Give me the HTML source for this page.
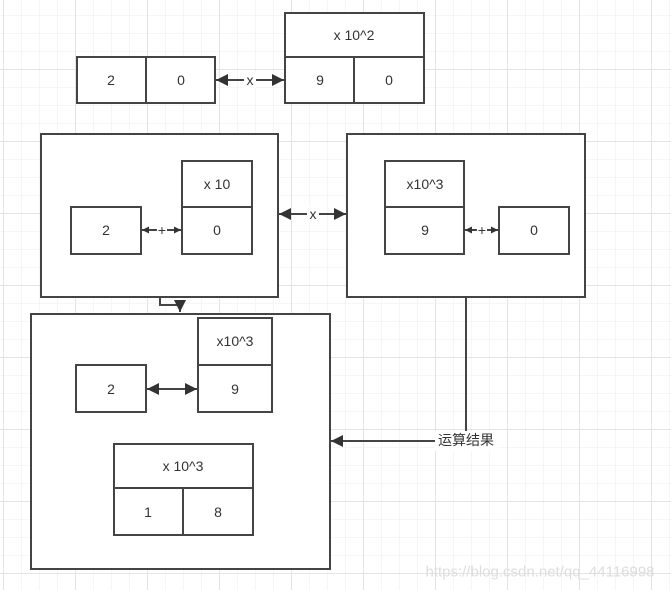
<!DOCTYPE html>
<html><head><meta charset="utf-8"><style>
html,body{margin:0;padding:0;background:#fff;}
svg{display:block;}
text{font-family:"Liberation Sans","Noto Sans CJK SC",sans-serif;font-size:14px;fill:#333;text-anchor:middle;dominant-baseline:central;}
.b{fill:#fff;stroke:#444;stroke-width:2;}
.l{stroke:#444;stroke-width:2;fill:none;}
</style></head><body>
<svg width="671" height="590" viewBox="0 0 671 590" xmlns="http://www.w3.org/2000/svg">
<defs>
<pattern id="mi" width="18" height="18" patternUnits="userSpaceOnUse" x="3" y="15">
<path d="M0 0H18M0 0V18" stroke="#ececec" stroke-width="1" fill="none"/>
</pattern>
<pattern id="ma" width="72" height="72" patternUnits="userSpaceOnUse" x="3" y="69">
<path d="M0 0H72M0 0V72" stroke="#dcdcdc" stroke-width="1.5" fill="none"/>
</pattern>
<marker id="ar" viewBox="0 0 10 10" refX="10" refY="5" markerWidth="7" markerHeight="7" orient="auto-start-reverse" markerUnits="userSpaceOnUse">
<path d="M0 0L10 5L0 10Z" fill="#333"/>
</marker>
<marker id="ab" viewBox="0 0 10 10" refX="10" refY="5" markerWidth="14" markerHeight="12" orient="auto-start-reverse" markerUnits="userSpaceOnUse">
<path d="M0 0L10 5L0 10Z" fill="#333"/>
</marker>
</defs>
<rect width="671" height="590" fill="#fff"/>
<rect width="671" height="590" fill="url(#mi)"/>
<rect width="671" height="590" fill="url(#ma)"/>

<!-- top -->
<rect class="b" x="77" y="57" width="138" height="46"/>
<line class="l" x1="146" y1="57" x2="146" y2="103"/>
<text x="111" y="80">2</text><text x="181" y="80">0</text>
<rect class="b" x="285" y="13" width="139" height="90"/>
<line class="l" x1="285" y1="57" x2="424" y2="57"/>
<line class="l" x1="354" y1="57" x2="354" y2="103"/>
<text x="354" y="35">x 10^2</text><text x="320" y="80">9</text><text x="389" y="80">0</text>
<line class="l" x1="216" y1="80" x2="284" y2="80" marker-start="url(#ab)" marker-end="url(#ab)"/>
<rect x="244" y="72" width="12" height="16" fill="#fff"/><text x="250" y="80">x</text>

<!-- box A -->
<rect class="b" x="41" y="134" width="237" height="163"/>
<rect class="b" x="71" y="207" width="70" height="47"/><text x="106" y="230">2</text>
<rect class="b" x="182" y="161" width="70" height="93"/>
<line class="l" x1="182" y1="207" x2="252" y2="207"/>
<text x="217" y="184">x 10</text><text x="217" y="230">0</text>
<line class="l" x1="142" y1="230" x2="181" y2="230" marker-start="url(#ar)" marker-end="url(#ar)"/>
<rect x="157" y="222" width="10" height="16" fill="#fff"/><text x="162" y="230">+</text>

<!-- box B -->
<rect class="b" x="347" y="134" width="238" height="163"/>
<rect class="b" x="385" y="161" width="79" height="93"/>
<line class="l" x1="385" y1="207" x2="464" y2="207"/>
<text x="425" y="184">x10^3</text><text x="425" y="230">9</text>
<rect class="b" x="499" y="207" width="70" height="47"/><text x="534" y="230">0</text>
<line class="l" x1="465" y1="230" x2="498" y2="230" marker-start="url(#ar)" marker-end="url(#ar)"/>
<rect x="477" y="222" width="10" height="16" fill="#fff"/><text x="482" y="230">+</text>

<line class="l" x1="279" y1="214" x2="346" y2="214" marker-start="url(#ab)" marker-end="url(#ab)"/>
<rect x="307" y="206" width="12" height="16" fill="#fff"/><text x="313" y="214">x</text>

<!-- connector A->C -->
<path class="l" d="M160 297V305H180V312" marker-end="url(#ab)"/>

<!-- box C -->
<rect class="b" x="31" y="314" width="299" height="255"/>
<rect class="b" x="76" y="365" width="70" height="47"/><text x="111" y="389">2</text>
<rect class="b" x="198" y="318" width="74" height="94"/>
<line class="l" x1="198" y1="365" x2="272" y2="365"/>
<text x="235" y="341">x10^3</text><text x="235" y="389">9</text>
<line class="l" x1="147" y1="389" x2="197" y2="389" marker-start="url(#ab)" marker-end="url(#ab)"/>
<rect class="b" x="114" y="444" width="139" height="91"/>
<line class="l" x1="114" y1="488" x2="253" y2="488"/>
<line class="l" x1="183" y1="488" x2="183" y2="535"/>
<text x="183" y="466">x 10^3</text><text x="148" y="512">1</text><text x="218" y="512">8</text>

<!-- result connector -->
<path class="l" d="M466 297V441H331" marker-end="url(#ab)"/>
<rect x="435" y="431" width="63" height="20" fill="#fff"/>
<text x="466" y="440">运算结果</text>

<text x="540" y="572" style="fill:#ddd;font-size:15px">https://blog.csdn.net/qq_44116998</text>
</svg>
</body></html>
